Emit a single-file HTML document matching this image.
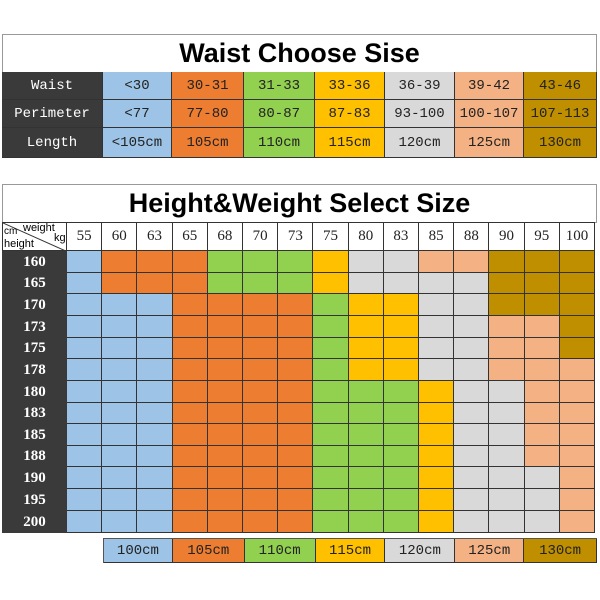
<!DOCTYPE html>
<html><head><meta charset="utf-8"><style>
*{box-sizing:border-box;margin:0;padding:0}
body{width:600px;height:600px;background:#fff;position:relative;overflow:hidden;font-family:"Liberation Sans",sans-serif}
.abs{position:absolute}
.title{font-weight:bold;text-align:center;color:#000;border:1px solid #999;background:#fff}
.row{position:absolute;display:flex}
.row>div{height:100%;border-right:1px solid #333;border-bottom:1px solid #333;display:flex;align-items:center;justify-content:center}
.lab{background:#3a3a3a;color:#fff}
.t{font-family:"Liberation Mono",monospace;font-size:14px;color:#222}
.s{font-family:"Liberation Serif",serif;font-weight:bold;font-size:15px}
.b{background:#9dc3e6}.o{background:#ed7d31}.g{background:#92d050}.y{background:#ffc000}.w{background:#d9d9d9}.p{background:#f4b183}.d{background:#bf8f00}
.grid>div{flex:1}
.hd>div{flex:1;background:#fff;font-family:"Liberation Serif",serif;font-size:15px;color:#222}
</style></head><body>

<div class="abs title" style="left:2px;top:34px;width:595px;height:39px;font-size:27px;line-height:37px">Waist Choose Sise</div>
<div class="row t" style="left:2px;top:72px;height:28px;width:595px">
<div class="lab" style="width:101px">Waist</div><div class="b" style="width:69px">&lt;30</div><div class="o" style="width:72px">30-31</div><div class="g" style="width:71px">31-33</div><div class="y" style="width:70px">33-36</div><div class="w" style="width:70px">36-39</div><div class="p" style="width:69px">39-42</div><div class="d" style="width:73px">43-46</div></div>
<div class="row t" style="left:2px;top:100px;height:28px;width:595px">
<div class="lab" style="width:101px">Perimeter</div><div class="b" style="width:69px">&lt;77</div><div class="o" style="width:72px">77-80</div><div class="g" style="width:71px">80-87</div><div class="y" style="width:70px">87-83</div><div class="w" style="width:70px">93-100</div><div class="p" style="width:69px">100-107</div><div class="d" style="width:73px">107-113</div></div>
<div class="row t" style="left:2px;top:128px;height:30px;width:595px">
<div class="lab" style="width:101px">Length</div><div class="b" style="width:69px">&lt;105cm</div><div class="o" style="width:72px">105cm</div><div class="g" style="width:71px">110cm</div><div class="y" style="width:70px">115cm</div><div class="w" style="width:70px">120cm</div><div class="p" style="width:69px">125cm</div><div class="d" style="width:73px">130cm</div></div>

<div class="abs title" style="left:2px;top:184px;width:595px;height:39px;font-size:27px;line-height:37px">Height&amp;Weight Select Size</div>

<div class="abs" style="left:2px;top:222px;width:65px;height:29px;border:1px solid #333;background:#fff;overflow:hidden">
<svg width="65" height="29" style="position:absolute;left:0;top:0"><line x1="0" y1="0" x2="65" y2="29" stroke="#333" stroke-width="1"/></svg>
<span class="abs" style="left:1px;top:3px;font-size:10px">cm</span>
<span class="abs" style="left:20px;top:-1px;font-size:11px">weight</span>
<span class="abs" style="left:51px;top:9px;font-size:11px">kg</span>
<span class="abs" style="left:1px;top:15px;font-size:11px">height</span>
</div>
<div class="row hd" style="left:67px;top:222px;height:29px;width:528px;border-top:1px solid #333">
<div>55</div><div>60</div><div>63</div><div>65</div><div>68</div><div>70</div><div>73</div><div>75</div><div>80</div><div>83</div><div>85</div><div>88</div><div>90</div><div>95</div><div>100</div></div>

<div class="abs" style="left:2px;top:251px;width:65px">
<div class="lab s" style="height:22px;line-height:22px;text-align:center">160</div>
<div class="lab s" style="height:21px;line-height:21px;text-align:center">165</div>
<div class="lab s" style="height:22px;line-height:22px;text-align:center">170</div>
<div class="lab s" style="height:22px;line-height:22px;text-align:center">173</div>
<div class="lab s" style="height:21px;line-height:21px;text-align:center">175</div>
<div class="lab s" style="height:22px;line-height:22px;text-align:center">178</div>
<div class="lab s" style="height:22px;line-height:22px;text-align:center">180</div>
<div class="lab s" style="height:21px;line-height:21px;text-align:center">183</div>
<div class="lab s" style="height:22px;line-height:22px;text-align:center">185</div>
<div class="lab s" style="height:21px;line-height:21px;text-align:center">188</div>
<div class="lab s" style="height:22px;line-height:22px;text-align:center">190</div>
<div class="lab s" style="height:22px;line-height:22px;text-align:center">195</div>
<div class="lab s" style="height:22px;line-height:22px;text-align:center">200</div>
</div>

<div class="abs" style="left:67px;top:251px;width:528px">
<div class="row grid" style="position:relative;height:22px;width:528px"><div class="b"></div><div class="o"></div><div class="o"></div><div class="o"></div><div class="g"></div><div class="g"></div><div class="g"></div><div class="y"></div><div class="w"></div><div class="w"></div><div class="p"></div><div class="p"></div><div class="d"></div><div class="d"></div><div class="d"></div></div>
<div class="row grid" style="position:relative;height:21px;width:528px"><div class="b"></div><div class="o"></div><div class="o"></div><div class="o"></div><div class="g"></div><div class="g"></div><div class="g"></div><div class="y"></div><div class="w"></div><div class="w"></div><div class="w"></div><div class="w"></div><div class="d"></div><div class="d"></div><div class="d"></div></div>
<div class="row grid" style="position:relative;height:22px;width:528px"><div class="b"></div><div class="b"></div><div class="b"></div><div class="o"></div><div class="o"></div><div class="o"></div><div class="o"></div><div class="g"></div><div class="y"></div><div class="y"></div><div class="w"></div><div class="w"></div><div class="d"></div><div class="d"></div><div class="d"></div></div>
<div class="row grid" style="position:relative;height:22px;width:528px"><div class="b"></div><div class="b"></div><div class="b"></div><div class="o"></div><div class="o"></div><div class="o"></div><div class="o"></div><div class="g"></div><div class="y"></div><div class="y"></div><div class="w"></div><div class="w"></div><div class="p"></div><div class="p"></div><div class="d"></div></div>
<div class="row grid" style="position:relative;height:21px;width:528px"><div class="b"></div><div class="b"></div><div class="b"></div><div class="o"></div><div class="o"></div><div class="o"></div><div class="o"></div><div class="g"></div><div class="y"></div><div class="y"></div><div class="w"></div><div class="w"></div><div class="p"></div><div class="p"></div><div class="d"></div></div>
<div class="row grid" style="position:relative;height:22px;width:528px"><div class="b"></div><div class="b"></div><div class="b"></div><div class="o"></div><div class="o"></div><div class="o"></div><div class="o"></div><div class="g"></div><div class="y"></div><div class="y"></div><div class="w"></div><div class="w"></div><div class="p"></div><div class="p"></div><div class="p"></div></div>
<div class="row grid" style="position:relative;height:22px;width:528px"><div class="b"></div><div class="b"></div><div class="b"></div><div class="o"></div><div class="o"></div><div class="o"></div><div class="o"></div><div class="g"></div><div class="g"></div><div class="g"></div><div class="y"></div><div class="w"></div><div class="w"></div><div class="p"></div><div class="p"></div></div>
<div class="row grid" style="position:relative;height:21px;width:528px"><div class="b"></div><div class="b"></div><div class="b"></div><div class="o"></div><div class="o"></div><div class="o"></div><div class="o"></div><div class="g"></div><div class="g"></div><div class="g"></div><div class="y"></div><div class="w"></div><div class="w"></div><div class="p"></div><div class="p"></div></div>
<div class="row grid" style="position:relative;height:22px;width:528px"><div class="b"></div><div class="b"></div><div class="b"></div><div class="o"></div><div class="o"></div><div class="o"></div><div class="o"></div><div class="g"></div><div class="g"></div><div class="g"></div><div class="y"></div><div class="w"></div><div class="w"></div><div class="p"></div><div class="p"></div></div>
<div class="row grid" style="position:relative;height:21px;width:528px"><div class="b"></div><div class="b"></div><div class="b"></div><div class="o"></div><div class="o"></div><div class="o"></div><div class="o"></div><div class="g"></div><div class="g"></div><div class="g"></div><div class="y"></div><div class="w"></div><div class="w"></div><div class="p"></div><div class="p"></div></div>
<div class="row grid" style="position:relative;height:22px;width:528px"><div class="b"></div><div class="b"></div><div class="b"></div><div class="o"></div><div class="o"></div><div class="o"></div><div class="o"></div><div class="g"></div><div class="g"></div><div class="g"></div><div class="y"></div><div class="w"></div><div class="w"></div><div class="w"></div><div class="p"></div></div>
<div class="row grid" style="position:relative;height:22px;width:528px"><div class="b"></div><div class="b"></div><div class="b"></div><div class="o"></div><div class="o"></div><div class="o"></div><div class="o"></div><div class="g"></div><div class="g"></div><div class="g"></div><div class="y"></div><div class="w"></div><div class="w"></div><div class="w"></div><div class="p"></div></div>
<div class="row grid" style="position:relative;height:22px;width:528px"><div class="b"></div><div class="b"></div><div class="b"></div><div class="o"></div><div class="o"></div><div class="o"></div><div class="o"></div><div class="g"></div><div class="g"></div><div class="g"></div><div class="y"></div><div class="w"></div><div class="w"></div><div class="w"></div><div class="p"></div></div>
</div>

<div class="row t" style="left:103px;top:538px;height:25px;width:494px;border-top:1px solid #555;border-left:1px solid #555">
<div class="b" style="width:69px">100cm</div><div class="o" style="width:72px">105cm</div><div class="g" style="width:71px">110cm</div><div class="y" style="width:70px">115cm</div><div class="w" style="width:70px">120cm</div><div class="p" style="width:69px">125cm</div><div class="d" style="width:73px">130cm</div></div>

</body></html>
